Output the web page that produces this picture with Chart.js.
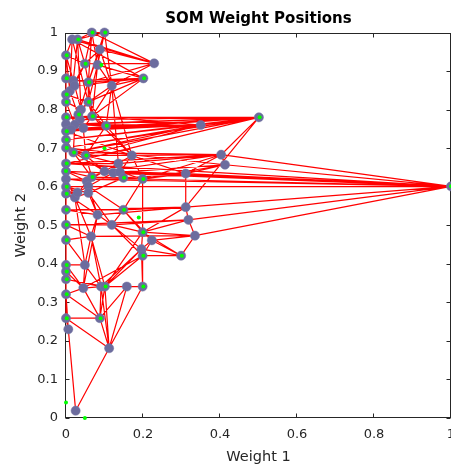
<!DOCTYPE html>
<html>
<head>
<meta charset="utf-8">
<title>SOM Weight Positions</title>
<script src="https://cdn.jsdelivr.net/npm/chart.js@4.4.0/dist/chart.umd.min.js"></script>
<style>
  html, body { margin: 0; padding: 0; background: #fff; overflow: hidden; }
  #somChart { display: block; }
</style>
</head>
<body>
<canvas id="somChart" width="520" height="466"></canvas>
<script>
/* DATA */
// neuron weight positions (weight 1, weight 2)
const neuronX = [
  0.067, 0.100, 0.016, 0.030, 0.000, 0.088, 0.049, 0.082, 0.229, 0.201,
  0.000, 0.019, 0.058, 0.119, 0.010, 0.000, 0.000, 0.058, 0.039, 0.032,
  0.000, 0.068, 0.104, 0.036, 0.023, 0.000, 0.000, 0.000, 0.000, 0.019,
  0.051, 0.171, 0.000, 0.136, 0.100, 0.123, 0.140, 0.149, 0.199, 0.000,
  0.000, 0.067, 0.054, 0.058, 0.000, 0.000, 0.023, 0.058, 0.000, 0.082,
  0.149, 0.000, 0.119, 0.199, 0.000, 0.065, 0.223, 0.196, 0.199, 0.299,
  0.049, 0.000, 0.000, 0.000, 0.045, 0.091, 0.101, 0.158, 0.199, 0.000,
  0.000, 0.088, 0.006, 0.112, 0.025, 0.403, 0.413, 0.311, 0.311, 0.318,
  0.335, 0.501, 0.350, 1.000, 0.022, 0.030, 0.013, 0.045
];
const neuronY = [
  1.000, 1.000, 0.982, 0.982, 0.941, 0.956, 0.919, 0.916, 0.920, 0.881,
  0.881, 0.875, 0.871, 0.862, 0.848, 0.839, 0.820, 0.820, 0.800, 0.787,
  0.780, 0.783, 0.758, 0.774, 0.761, 0.762, 0.744, 0.722, 0.701, 0.689,
  0.681, 0.681, 0.660, 0.660, 0.640, 0.636, 0.638, 0.623, 0.620, 0.640,
  0.620, 0.625, 0.614, 0.601, 0.600, 0.582, 0.572, 0.584, 0.540, 0.527,
  0.540, 0.501, 0.501, 0.482, 0.462, 0.471, 0.461, 0.438, 0.421, 0.421,
  0.397, 0.397, 0.380, 0.360, 0.337, 0.341, 0.341, 0.341, 0.341, 0.321,
  0.259, 0.259, 0.230, 0.181, 0.019, 0.683, 0.657, 0.634, 0.547, 0.514,
  0.473, 0.780, 0.760, 0.601, 0.862, 0.585, 0.748, 0.752
];

// neighbour links between neurons (index pairs)
const links = [
  [4,10],[10,15],[15,16],[16,20],[20,25],[25,26],[26,27],[27,28],[28,32],[32,39],
  [39,40],[40,44],[44,45],[45,48],[48,51],[51,54],[54,61],[61,62],[62,63],[63,69],
  [69,70],[70,72],[4,15],[10,16],[16,25],[20,26],[26,28],[27,32],[32,40],[39,44],
  [44,48],[45,51],[48,54],[51,61],[54,62],[61,63],[62,69],[69,72],[63,70],[2,4],[4,14],
  [0,1],[0,3],[0,6],[0,12],[0,7],[1,5],[1,7],[1,13],[1,3],[2,3],[2,14],[2,17],
  [3,6],[3,18],[3,11],[4,11],[4,6],[5,7],[5,12],[5,6],[6,12],[6,14],[7,13],[7,17],
  [7,21],[10,11],[10,12],[11,14],[11,18],[12,17],[12,19],[13,17],[13,22],[13,21],
  [14,15],[14,23],[15,17],[16,18],[16,24],[17,18],[17,21],[17,19],[18,19],[18,23],
  [19,23],[19,24],[20,23],[20,21],[84,11],[84,6],[84,14],[84,9],
  [8,3],[8,6],[8,12],[8,5],[8,13],[8,2],[8,0],
  [9,2],[9,7],[9,12],[9,11],[9,13],[9,21],[9,17],[1,12],[5,13],
  [20,81],[23,81],[81,82],[81,28],[81,32],[81,75],[81,78],[81,25],[81,86],[81,29],
  [81,24],[81,26],[81,27],[81,87],
  [82,24],[82,26],[82,27],[82,29],[82,30],[82,22],[82,21],[82,87],[82,86],[82,28],
  [21,22],[21,24],[22,24],[22,30],[22,31],[21,87],[86,87],[86,24],[87,23],[87,30],
  [83,75],[83,76],[83,77],[83,78],[83,79],[83,80],[83,38],[83,44],[83,32],[83,36],
  [83,40],[83,39],
  [75,76],[75,77],[75,31],[75,33],[75,32],[75,34],[75,29],[75,38],
  [76,77],[76,36],[76,38],[76,28],[76,35],
  [77,78],[77,38],[77,35],[77,34],[77,31],[77,37],
  [78,79],[78,50],[78,49],[78,48],[78,53],
  [79,80],[79,53],[79,52],[79,51],
  [80,56],[80,55],[80,53],[80,59],
  [59,57],[59,53],[59,56],[59,58],
  [31,33],[31,30],[31,26],[31,38],[31,13],[31,36],
  [33,34],[33,36],[33,30],[33,29],[32,33],
  [34,35],[34,41],[34,42],[34,28],
  [35,36],[35,37],[35,43],[36,37],[36,38],
  [37,38],[37,41],[37,47],[38,50],[38,53],[38,40],
  [39,41],[39,42],[40,42],[40,46],
  [41,42],[41,43],[41,29],[42,43],[42,46],[42,47],
  [43,47],[43,49],[43,50],[44,46],[44,47],[44,85],
  [45,46],[45,49],[45,85],[46,47],[46,55],[46,60],[46,85],
  [47,49],[47,52],[85,43],[48,50],[48,49],
  [49,52],[49,55],[49,64],[50,52],[50,53],[50,56],
  [51,52],[51,55],[52,53],[52,57],[52,58],
  [53,56],[53,57],[53,66],[54,55],[54,60],
  [55,60],[55,65],[55,66],[56,57],[56,58],
  [57,58],[57,65],[57,66],[58,68],[58,66],[58,64],[57,68],
  [60,61],[60,64],[60,65],[61,64],[62,64],[63,65],[63,66],
  [64,65],[64,69],[64,71],[65,66],[65,71],[65,73],
  [66,67],[66,71],[66,73],[67,68],[67,71],[67,73],
  [68,73],[68,57],[69,71],[70,73],[70,71],[72,74],[74,73],[71,73],
  [29,30],[28,29],[30,34],[24,29],[25,86],[26,86],[27,29],[30,41],[12,21],[17,22],
  [13,33],[21,31]
];

// input vectors (green dots)
const inputX = [
  0.069, 0.102, 0.032, 0.002, 0.051, 0.203, 0.002, 0.060, 0.002, 0.002,
  0.060, 0.034, 0.002, 0.070, 0.106, 0.002, 0.002, 0.002, 0.053, 0.100,
  0.000, 0.002, 0.151, 0.201, 0.069, 0.002, 0.002, 0.002, 0.151, 0.189,
  0.002, 0.201, 0.002, 0.201, 0.301, 0.002, 0.002, 0.002, 0.103, 0.201,
  0.002, 0.002, 0.090, 0.000, 0.049, 0.503, 1.000, 0.021, 0.092
];
const inputY = [
  1.000, 1.000, 0.982, 0.941, 0.919, 0.881, 0.881, 0.871, 0.839, 0.820,
  0.820, 0.787, 0.780, 0.783, 0.758, 0.744, 0.722, 0.701, 0.681, 0.700,
  0.641, 0.660, 0.623, 0.620, 0.625, 0.600, 0.582, 0.540, 0.540, 0.520,
  0.501, 0.482, 0.462, 0.421, 0.421, 0.397, 0.380, 0.360, 0.341, 0.341,
  0.321, 0.259, 0.259, 0.040, 0.000, 0.780, 0.601, 0.689, 0.916
];

const xTicks = [0, 0.2, 0.4, 0.6, 0.8, 1];
const yTicks = [0, 0.1, 0.2, 0.3, 0.4, 0.5, 0.6, 0.7, 0.8, 0.9, 1];

/* BUILD DATASETS */
const neuronPoints = neuronX.map((x, i) => ({ x: x, y: neuronY[i] }));
const inputPoints = inputX.map((x, i) => ({ x: x, y: inputY[i] }));

// one polyline, broken with null y between each link
const linkPoints = [];
links.forEach(([a, b]) => {
  linkPoints.push(neuronPoints[a], neuronPoints[b], { x: neuronX[b], y: null });
});

const FONT = "DejaVu Sans";
const TEXT = "#262626";
const tickLen = 4;

// MATLAB style box with inward ticks, drawn under the data
const axesBox = {
  id: "axesBox",
  beforeDatasetsDraw(chart) {
    const { ctx, chartArea: a, scales } = chart;
    const left = Math.round(a.left) - 0.5;
    const right = Math.round(a.right) - 0.5;
    const top = Math.round(a.top) + 0.5;
    const bottom = Math.round(a.bottom) - 0.5;
    ctx.save();
    ctx.strokeStyle = TEXT;
    ctx.lineWidth = 1;
    ctx.strokeRect(left, top, right - left, bottom - top);
    ctx.beginPath();
    xTicks.forEach((v) => {
      const px = Math.round(scales.x.getPixelForValue(v)) - 0.5;
      ctx.moveTo(px, bottom);
      ctx.lineTo(px, bottom - tickLen);
      ctx.moveTo(px, top);
      ctx.lineTo(px, top + tickLen);
    });
    yTicks.forEach((v) => {
      const py = Math.round(scales.y.getPixelForValue(v)) + 0.5;
      ctx.moveTo(left, py);
      ctx.lineTo(left + tickLen, py);
      ctx.moveTo(right, py);
      ctx.lineTo(right - tickLen, py);
    });
    ctx.stroke();
    ctx.restore();
  },
};

new Chart("somChart", {
  type: "scatter",
  data: {
    datasets: [
      {
        label: "Inputs",
        data: inputPoints,
        pointRadius: 2,
        pointBackgroundColor: "#00ff00",
        pointBorderWidth: 0,
        order: 0,
        clip: false,
      },
      {
        label: "Neurons",
        data: neuronPoints,
        pointRadius: 4.6,
        pointBackgroundColor: "rgb(108,108,158)",
        pointBorderColor: "rgb(120,120,165)",
        pointBorderWidth: 0.5,
        order: 1,
        clip: false,
      },
      {
        label: "Links",
        data: linkPoints,
        showLine: true,
        spanGaps: false,
        borderColor: "#ff0000",
        borderWidth: 1.2,
        pointRadius: 0,
        order: 2,
        clip: false,
      },
    ],
  },
  options: {
    responsive: false,
    animation: false,
    layout: { padding: { left: 0, right: 69, top: 0, bottom: 0 } },
    plugins: {
      legend: { display: false },
      tooltip: { enabled: false },
      title: {
        display: true,
        text: "SOM Weight Positions",
        fullSize: false,
        color: "#000",
        font: { family: FONT, size: 15, weight: "bold" },
        padding: { top: 10, bottom: 4.5 },
      },
    },
    scales: {
      x: {
        type: "linear",
        min: 0,
        max: 1,
        grid: { display: false, drawTicks: false },
        border: { display: false },
        afterBuildTicks: (s) => { s.ticks = xTicks.map((v) => ({ value: v })); },
        afterFit: (s) => { s.height = 48; },
        ticks: {
          padding: 9,
          maxRotation: 0,
          color: TEXT,
          font: { family: FONT, size: 13 },
          callback: (v) => String(v),
        },
        title: {
          display: true,
          text: "Weight 1",
          color: TEXT,
          font: { family: FONT, size: 14.5 },
          padding: { top: 0, bottom: 0 },
        },
      },
      y: {
        type: "linear",
        min: 0,
        max: 1,
        grid: { display: false, drawTicks: false },
        border: { display: false },
        afterBuildTicks: (s) => { s.ticks = yTicks.map((v) => ({ value: v })); },
        afterFit: (s) => { s.width = 66; },
        ticks: {
          padding: 8,
          color: TEXT,
          font: { family: FONT, size: 13 },
          callback: (v) => String(v),
        },
        title: {
          display: true,
          text: "Weight 2",
          color: TEXT,
          font: { family: FONT, size: 14.5 },
          padding: { top: 13, bottom: 0 },
        },
      },
    },
  },
  plugins: [axesBox],
});
</script>
</body>
</html>
